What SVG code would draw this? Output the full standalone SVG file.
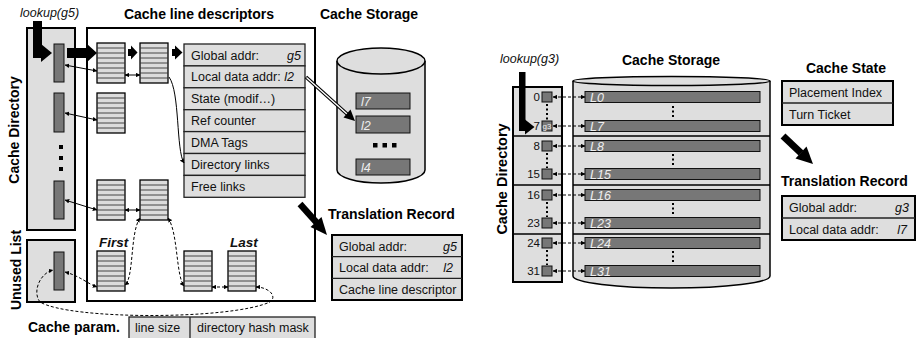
<svg xmlns="http://www.w3.org/2000/svg" xmlns:xlink="http://www.w3.org/1999/xlink" width="919" height="338" viewBox="0 0 919 338">
  <style>
    text { font-family: "Liberation Sans", Arial, Helvetica, sans-serif; font-size: 12.5px; fill: #111; }
    .title { font-weight: bold; font-size: 14px; fill: #000; }
    .it { font-style: italic; }
    .bi { font-style: italic; font-weight: bold; font-size: 13.5px; }
    .barlbl { font-style: italic; fill: #eeeeee; }
    .num { font-size: 11.5px; text-anchor: end; }
    .box { fill: #dedede; stroke: #000; stroke-width: 2; }
    .panel { fill: #fff; stroke: #000; stroke-width: 2; }
    .cell { fill: #dedede; stroke: #222; stroke-width: 1.3; }
    .bar { fill: #777; stroke: #111; stroke-width: 1; }
    .cyl { fill: #dedede; stroke: #000; stroke-width: 1.5; }
    .link { fill: none; stroke: #000; stroke-width: 1; }
    .dash { stroke-dasharray: 3 2; }
    .dots { stroke: #000; stroke-width: 2; stroke-dasharray: 2 2.5; }
    .heavy { fill: #000; }
  </style>
  <defs>
    <marker id="ah" viewBox="0 0 8 8" refX="7.5" refY="4" markerWidth="4.5" markerHeight="4.5" orient="auto-start-reverse">
      <path d="M0,0 L8,4 L0,8 z" fill="#000"/>
    </marker>
    <!-- striped cache line descriptor block -->
    <g id="blk">
      <rect x="0" y="0" width="28" height="40" fill="#dcdcdc" stroke="#000" stroke-width="1.3"/>
      <path d="M0,5H28M0,10H28M0,15H28M0,20H28M0,25H28M0,30H28M0,35H28" stroke="#333" stroke-width="0.9"/>
    </g>
  </defs>

  <!-- ================= left: descriptor-based cache ================= -->
  <text x="20" y="17" class="it">lookup(g5)</text>
  <text x="199" y="19" class="title" text-anchor="middle">Cache line descriptors</text>
  <text x="369" y="19" class="title" text-anchor="middle">Cache Storage</text>

  <g id="cache-directory">
    <rect x="27" y="28" width="48" height="202" class="box"/>
    <rect x="54" y="44" width="10" height="38" class="bar"/>
    <rect x="54" y="93" width="10" height="39" class="bar"/>
    <rect x="59" y="145" width="4" height="4" fill="#000"/>
    <rect x="59" y="156" width="4" height="4" fill="#000"/>
    <rect x="59" y="167" width="4" height="4" fill="#000"/>
    <rect x="54" y="181" width="10" height="38" class="bar"/>
    <text transform="translate(18.5,130) rotate(-90)" class="title" text-anchor="middle">Cache Directory</text>
  </g>

  <g id="unused-list">
    <rect x="27" y="240" width="48" height="62" class="box"/>
    <rect x="54" y="252" width="10" height="38" class="bar"/>
    <text transform="translate(20.5,270) rotate(-90)" class="title" text-anchor="middle">Unused List</text>
  </g>

  <g id="descriptors">
    <rect x="87" y="28" width="228" height="273" class="panel"/>
    <use xlink:href="#blk" x="97" y="43"/>
    <use xlink:href="#blk" x="140" y="43"/>
    <use xlink:href="#blk" x="97" y="93"/>
    <use xlink:href="#blk" x="97" y="180"/>
    <use xlink:href="#blk" x="140" y="180"/>
    <use xlink:href="#blk" x="97" y="251"/>
    <use xlink:href="#blk" x="184" y="251"/>
    <use xlink:href="#blk" x="228" y="251"/>
    <text x="99" y="247" class="bi">First</text>
    <text x="230" y="247" class="bi">Last</text>
  </g>

  <g id="descriptor-fields">
    <rect x="184" y="44" width="121" height="21.9" class="cell"/>
    <rect x="184" y="65.9" width="121" height="21.9" class="cell"/>
    <rect x="184" y="87.8" width="121" height="21.9" class="cell"/>
    <rect x="184" y="109.7" width="121" height="21.9" class="cell"/>
    <rect x="184" y="131.6" width="121" height="21.9" class="cell"/>
    <rect x="184" y="153.5" width="121" height="21.9" class="cell"/>
    <rect x="184" y="175.4" width="121" height="21.9" class="cell"/>
    <text x="191" y="59.5">Global addr:</text>
    <text x="301" y="59.5" class="it" text-anchor="end">g5</text>
    <text x="191" y="81.4">Local data addr: <tspan class="it">l2</tspan></text>
    <text x="191" y="103.3">State (modif…)</text>
    <text x="191" y="125.2">Ref counter</text>
    <text x="191" y="147.1">DMA Tags</text>
    <text x="191" y="169">Directory links</text>
    <text x="191" y="190.9">Free links</text>
  </g>

  <g id="cache-storage">
    <path d="M337,61 V170 A44,13 0 0 0 425,170 V61" class="cyl"/>
    <ellipse cx="381" cy="61" rx="44" ry="13" class="cyl"/>
    <rect x="356" y="93" width="54" height="16" class="bar"/>
    <text x="361" y="106" class="barlbl">l7</text>
    <rect x="356" y="116" width="54" height="17" class="bar"/>
    <text x="361" y="129.5" class="barlbl">l2</text>
    <rect x="373" y="143" width="4.5" height="4.5" fill="#000"/>
    <rect x="382.5" y="143" width="4.5" height="4.5" fill="#000"/>
    <rect x="392" y="143" width="4.5" height="4.5" fill="#000"/>
    <rect x="356" y="159" width="54" height="16" class="bar"/>
    <text x="361" y="172" class="barlbl">l4</text>
  </g>

  <g id="translation-record-left">
    <text x="328" y="219" class="title">Translation Record</text>
    <rect x="332" y="235" width="130" height="65" class="box"/>
    <path d="M332,256.7H462M332,278.4H462" stroke="#222" stroke-width="1.3"/>
    <text x="339" y="250.5">Global addr:</text>
    <text x="457" y="250.5" class="it" text-anchor="end">g5</text>
    <text x="339" y="272.2">Local data addr:</text>
    <text x="453" y="272.2" class="it" text-anchor="end">l2</text>
    <text x="339" y="293.9">Cache line descriptor</text>
  </g>

  <g id="cache-param">
    <text x="28" y="332" class="title">Cache param.</text>
    <rect x="129" y="317" width="186" height="30" class="cell"/>
    <path d="M190,317V347" stroke="#222" stroke-width="1.3"/>
    <text x="135" y="332">line size</text>
    <text x="197" y="332">directory hash mask</text>
  </g>

  <g id="connectors-left">
    <!-- heavy lookup and chain arrows -->
    <rect x="33" y="21" width="9" height="37" class="heavy"/>
    <path d="M41,44 L52,53 L41,62 z" class="heavy"/>
    <rect x="67" y="48" width="21" height="10" class="heavy"/>
    <path d="M87,44 L97,53 L87,62 z" class="heavy"/>
    <rect x="128" y="49" width="4" height="7" class="heavy"/>
    <path d="M131,45.5 L137.5,52.5 L131,59.5 z" class="heavy"/>
    <rect x="172" y="49" width="4" height="7" class="heavy"/>
    <path d="M175,45.5 L182.5,52.5 L175,59.5 z" class="heavy"/>
    <!-- directory slots to descriptors -->
    <path d="M65,65 L97,71" class="link" marker-start="url(#ah)" marker-end="url(#ah)"/>
    <path d="M65,113 L97,120" class="link" marker-start="url(#ah)" marker-end="url(#ah)"/>
    <path d="M65,200 L97,210" class="link" marker-start="url(#ah)" marker-end="url(#ah)"/>
    <path d="M125,75 L140,75" class="link" marker-start="url(#ah)" marker-end="url(#ah)"/>
    <path d="M125,210 L140,210" class="link" marker-start="url(#ah)" marker-end="url(#ah)"/>
    <path d="M169,77 C180,92 176,150 184,163" class="link" marker-end="url(#ah)"/>
    <!-- free list links -->
    <path d="M140,218 C130,232 134,278 125,285" class="link dash" marker-start="url(#ah)" marker-end="url(#ah)"/>
    <path d="M168,218 C178,232 176,276 184,286" class="link dash" marker-start="url(#ah)" marker-end="url(#ah)"/>
    <path d="M212,287 L228,287" class="link dash" marker-start="url(#ah)" marker-end="url(#ah)"/>
    <path d="M256,287 C268,287 278,296 270,302 C230,320 70,320 40,302 C32,292 40,273 53,270" class="link dash" marker-start="url(#ah)" marker-end="url(#ah)"/>
    <path d="M65,272 C80,276 88,284 97,287" class="link dash" marker-start="url(#ah)" marker-end="url(#ah)"/>
    <!-- local data address pointer -->
    <path d="M306,77 L347,114" fill="none" stroke="#000" stroke-width="3.6"/>
    <path d="M306.5,77.5 L347,114" fill="none" stroke="#fff" stroke-width="1.4"/>
    <path d="M355,121 L343.5,117.5 L350.5,109.5 z" class="heavy"/>
    <!-- to translation record -->
    <path d="M300,204 L317,223" stroke="#000" stroke-width="6.5"/>
    <path d="M327,235 L310.5,227 L321.5,217 z" class="heavy"/>
  </g>

  <!-- ================= right: direct-mapped cache ================= -->
  <text x="500" y="63" class="it">lookup(g3)</text>
  <text x="671" y="65" class="title" text-anchor="middle">Cache Storage</text>
  <text x="846" y="73" class="title" text-anchor="middle">Cache State</text>

  <g id="cache-directory-right">
    <rect x="513" y="87" width="49" height="195" class="box"/>
    <path d="M513,136H562M513,185H562M513,234H562" stroke="#000" stroke-width="1.5"/>
    <text transform="translate(507,179) rotate(-90)" class="title" text-anchor="middle" style="font-size:14.5px">Cache Directory</text>
    <rect x="542" y="92" width="10" height="10" class="bar"/>
    <rect x="542" y="121" width="10" height="10" class="bar"/>
    <text x="547" y="129" style="font-size:8px;fill:#eee" text-anchor="middle">g3</text>
    <rect x="542" y="141" width="10" height="10" class="bar"/>
    <rect x="542" y="169" width="10" height="10" class="bar"/>
    <rect x="542" y="190" width="10" height="10" class="bar"/>
    <rect x="542" y="218" width="10" height="10" class="bar"/>
    <rect x="542" y="238" width="10" height="10" class="bar"/>
    <rect x="542" y="266" width="10" height="10" class="bar"/>
    <path d="M547,104V120M547,153V168M547,202V217M547,250V265" class="dots"/>
    <text x="540" y="101" class="num">0</text>
    <text x="540" y="130" class="num">7</text>
    <text x="540" y="150" class="num">8</text>
    <text x="540" y="178" class="num">15</text>
    <text x="540" y="199" class="num">16</text>
    <text x="540" y="227" class="num">23</text>
    <text x="540" y="247" class="num">24</text>
    <text x="540" y="275" class="num">31</text>
  </g>

  <g id="cache-storage-right">
    <path d="M573,81 V276 A98.5,12 0 0 0 770,276 V81" class="cyl"/>
    <ellipse cx="671.5" cy="81" rx="98.5" ry="4.5" class="cyl"/>
    <path d="M573,136H770M573,185H770M573,234H770" stroke="#000" stroke-width="1.3"/>
    <rect x="585" y="91.5" width="175" height="11" class="bar"/>
    <rect x="585" y="120.5" width="175" height="11" class="bar"/>
    <rect x="585" y="140.5" width="175" height="11" class="bar"/>
    <rect x="585" y="168.5" width="175" height="11" class="bar"/>
    <rect x="585" y="189.5" width="175" height="11" class="bar"/>
    <rect x="585" y="217.5" width="175" height="11" class="bar"/>
    <rect x="585" y="237.5" width="175" height="11" class="bar"/>
    <rect x="585" y="265.5" width="175" height="11" class="bar"/>
    <text x="590" y="101.5" class="barlbl">L0</text>
    <text x="590" y="130.5" class="barlbl">L7</text>
    <text x="590" y="150.5" class="barlbl">L8</text>
    <text x="590" y="178.5" class="barlbl">L15</text>
    <text x="590" y="199.5" class="barlbl">L16</text>
    <text x="590" y="227.5" class="barlbl">L23</text>
    <text x="590" y="247.5" class="barlbl">L24</text>
    <text x="590" y="275.5" class="barlbl">L31</text>
    <path d="M673,106V119M673,154V167M673,203V216M673,251V264" class="dots"/>
  </g>

  <g id="cache-state">
    <rect x="782" y="81" width="111" height="44" class="box"/>
    <path d="M782,103H893" stroke="#222" stroke-width="1.3"/>
    <text x="789" y="97">Placement Index</text>
    <text x="789" y="119">Turn Ticket</text>
  </g>

  <g id="translation-record-right">
    <text x="781" y="186" class="title">Translation Record</text>
    <rect x="782" y="196" width="133" height="44" class="box"/>
    <path d="M782,218H915" stroke="#222" stroke-width="1.3"/>
    <text x="789" y="212">Global addr:</text>
    <text x="909" y="212" class="it" text-anchor="end">g3</text>
    <text x="789" y="234">Local data addr:</text>
    <text x="907" y="234" class="it" text-anchor="end">l7</text>
  </g>

  <g id="connectors-right">
    <rect x="519" y="72" width="6.5" height="59" class="heavy"/>
    <path d="M525,119.5 L534.5,127 L525,134.5 z" class="heavy"/>
    <g class="link dash" marker-start="url(#ah)" marker-end="url(#ah)">
      <path d="M553,97H585" marker-start="url(#ah)" marker-end="url(#ah)"/>
      <path d="M553,126H585" marker-start="url(#ah)" marker-end="url(#ah)"/>
      <path d="M553,146H585" marker-start="url(#ah)" marker-end="url(#ah)"/>
      <path d="M553,174H585" marker-start="url(#ah)" marker-end="url(#ah)"/>
      <path d="M553,195H585" marker-start="url(#ah)" marker-end="url(#ah)"/>
      <path d="M553,223H585" marker-start="url(#ah)" marker-end="url(#ah)"/>
      <path d="M553,243H585" marker-start="url(#ah)" marker-end="url(#ah)"/>
      <path d="M553,271H585" marker-start="url(#ah)" marker-end="url(#ah)"/>
    </g>
    <path d="M783,136 L801,153" stroke="#000" stroke-width="7"/>
    <path d="M813,164 L795.5,158.5 L806.5,146.5 z" class="heavy"/>
  </g>
</svg>
